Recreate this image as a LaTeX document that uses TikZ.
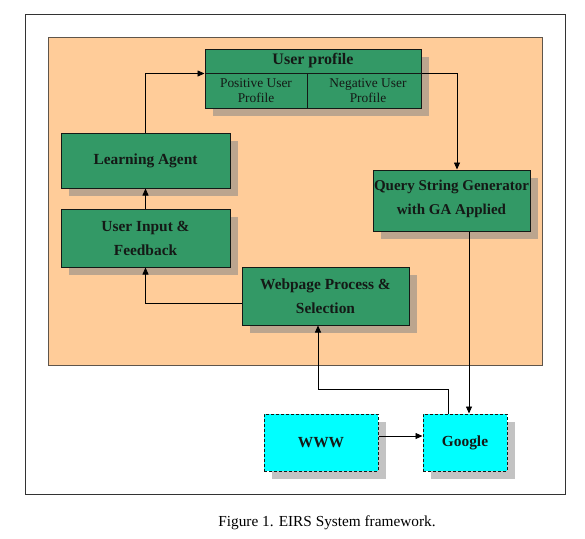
\documentclass[tikz,border=0pt]{standalone}
\usepackage{fontspec}
\setmainfont{Liberation Serif}
\usetikzlibrary{arrows.meta,shadows}
\definecolor{peach}{RGB}{255,204,153}
\definecolor{peachline}{RGB}{95,85,75}
\definecolor{boxgreen}{RGB}{51,153,102}
\definecolor{shpeach}{RGB}{188,165,142}
\definecolor{shwhite}{RGB}{195,195,195}
\definecolor{boxcyan}{RGB}{0,255,255}
\definecolor{ink}{RGB}{20,25,22}
\begin{document}
\begin{tikzpicture}[x=1pt,y=-1pt,
  frame/.style={draw=black!80, line width=0.9pt},
  peachbg/.style={fill=peach, draw=peachline, line width=0.9pt},
  gbox/.style={draw=ink, line width=1pt, fill=boxgreen, inner sep=0pt, align=center,
    text=ink, font=\bfseries\fontsize{15.4}{24}\selectfont,
    drop shadow={shadow xshift=8pt, shadow yshift=-8pt, fill=shpeach, opacity=1}},
  cellbox/.style={gbox, font=\fontsize{13.4}{15.5}\selectfont},
  cbox/.style={draw=ink, line width=1pt, dash pattern=on 3pt off 2pt, fill=boxcyan,
    inner sep=0pt, align=center, text=ink, font=\bfseries\fontsize{15.4}{24}\selectfont,
    drop shadow={shadow xshift=8pt, shadow yshift=-8pt, fill=shwhite, opacity=1}},
  conn/.style={draw=black, line width=0.8pt, -{Triangle[length=7pt,width=6pt]}},
  captext/.style={font=\fontsize{15.3}{18}\selectfont, inner sep=0pt}
]
\useasboundingbox (0,0) rectangle (585,538);
\fill[white] (0,0) rectangle (585,538);
\draw[frame] (25,14) rectangle (565,494);
\filldraw[peachbg] (48,37) rectangle (542,365);

% user profile
\node[gbox, font=\bfseries\fontsize{16}{20}\selectfont, minimum width=216pt, minimum height=24pt] (uph) at (313,61) {User profile};
\node[cellbox, minimum width=102pt, minimum height=35pt] (upp) at (256,90.5) {Positive User\\Profile};
\node[cellbox, minimum width=114pt, minimum height=35pt] (upn) at (364,90.5) {\hspace*{8pt}Negative User\\\hspace*{8pt}Profile};

\node[gbox, minimum width=169pt, minimum height=55pt] (la) at (145.5,160.5) {Learning Agent};
\node[gbox, minimum width=169pt, minimum height=58pt] (ui) at (145.5,238) {User Input \&\\Feedback};
\node[gbox, font=\bfseries\fontsize{15}{24}\selectfont, minimum width=157pt, minimum height=61pt] (qs) at (451.5,200.5) {Query String Generator\\with GA Applied\rule[-6pt]{0pt}{6pt}};
\node[gbox, minimum width=167pt, minimum height=58pt] (wp) at (325.5,296) {Webpage Process \&\\Selection};

\node[cbox, minimum width=114pt, minimum height=57pt] (www) at (321,442.5) {WWW};
\node[cbox, minimum width=84pt, minimum height=57pt] (go) at (465,442.5) {Google};

\node[captext] (cap) at (327,523) {Figure 1. EIRS System framework.};

% connectors
\draw[conn] (la.north) |- (uph.south west);
\draw[conn] (uph.south east) -| ([xshift=5.5pt]qs.north);
\draw[conn] ([xshift=17.5pt]qs.south) -- ([xshift=4pt]go.north);
\draw[conn] ([xshift=-17pt]go.north) |- ([xshift=-7.5pt,yshift=-64pt]wp.south) -- ([xshift=-7.5pt]wp.south);
\draw[conn] ([yshift=-7pt]wp.west) -| (ui.south);
\draw[conn] (ui.north) -- (la.south);
\draw[conn] ([yshift=6.5pt]www.east) -- ([yshift=6.5pt]go.west);
\end{tikzpicture}
\end{document}
